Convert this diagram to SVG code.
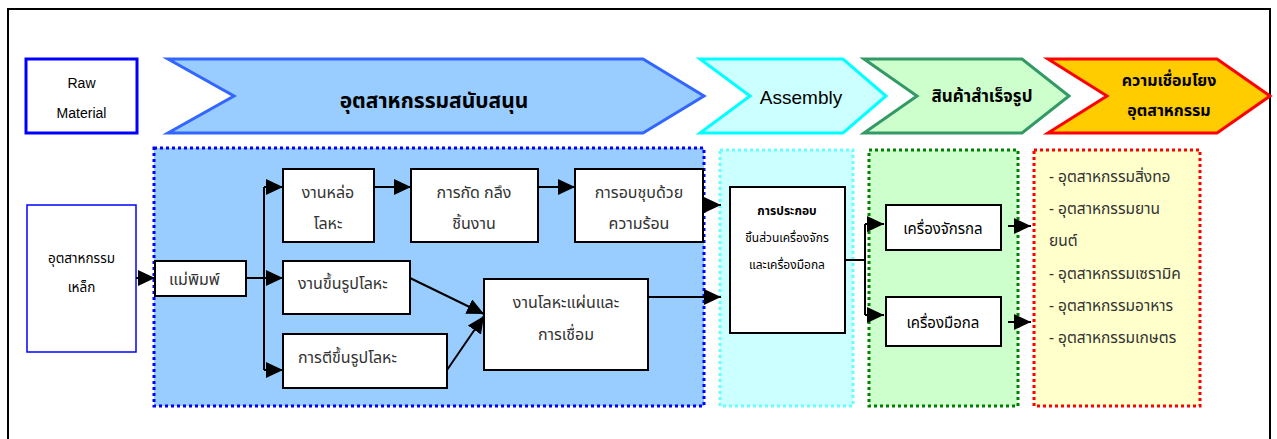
<svg xmlns="http://www.w3.org/2000/svg" width="1277" height="439" viewBox="0 0 1277 439">
<defs>
<marker id="ah" markerUnits="userSpaceOnUse" markerWidth="18" markerHeight="16" refX="17" refY="8" orient="auto">
<path d="M0,0 L17,8 L0,16 Z" fill="#000"/>
</marker>
</defs>
<style>
text{font-family:"Noto Sans Thai","Noto Sans","Liberation Sans",sans-serif;fill:#000;}
.en{font-family:"Liberation Sans",Arial,sans-serif;}
.box{fill:#fff;stroke:#000;stroke-width:2;}
.ln{fill:none;stroke:#000;stroke-width:2;}
.t{font-size:16px;fill:#333;}
.li{font-size:15.5px;fill:#333;}
.c{text-anchor:middle;}
.b{font-weight:bold;}
</style>
<rect x="0" y="0" width="1277" height="439" fill="#fff"/>
<rect x="8" y="9" width="1262" height="440" fill="none" stroke="#000" stroke-width="2"/>

<!-- containers -->
<g id="zone-support"><rect x="154" y="148" width="550" height="258" fill="#99CCFF" stroke="#0000FF" stroke-width="3" stroke-dasharray="3,3"/></g>
<g id="zone-assembly"><rect x="720" y="150" width="133" height="256" fill="#CCFFFF" stroke="#66FFFF" stroke-width="3" stroke-dasharray="3,3"/></g>
<g id="zone-finished"><rect x="869" y="150" width="149" height="256" fill="#CCFFCC" stroke="#008000" stroke-width="3" stroke-dasharray="3,3"/></g>
<g id="zone-linkage"><rect x="1034" y="150" width="166" height="256" fill="#FFFFCC" stroke="#FF0000" stroke-width="3" stroke-dasharray="3,3"/></g>

<!-- header -->
<g id="raw-material">
<rect x="26" y="59" width="111" height="74" fill="#fff" stroke="#0000FF" stroke-width="3"/>
<text class="en c" x="81.5" y="88" font-size="14">Raw</text>
<text class="en c" x="81.5" y="118" font-size="14">Material</text>
</g>
<g id="chev-support">
<polygon points="168,59 643,59 704,96 643,133 168,133 234,96" fill="#99CCFF" stroke="#3366FF" stroke-width="3"/>
<text class="c b" x="434" y="108" font-size="21">อุตสาหกรรมสนับสนุน</text>
</g>
<g id="chev-assembly">
<polygon points="700,59 843,59 886,96 843,133 700,133 750,96" fill="#CCFFFF" stroke="#00FFFF" stroke-width="3"/>
<text class="en c" x="801" y="104" font-size="19">Assembly</text>
</g>
<g id="chev-finished">
<polygon points="864,59 1022,59 1069,96 1022,133 864,133 917,96" fill="#CCFFCC" stroke="#339966" stroke-width="3"/>
<text class="c b" x="982" y="102" font-size="17">สินค้าสำเร็จรูป</text>
</g>
<g id="chev-linkage">
<polygon points="1048,59 1217,59 1270,96 1217,133 1048,133 1107,96" fill="#FFCC00" stroke="#FF0000" stroke-width="3"/>
<text class="c b" x="1169" y="86" font-size="16">ความเชื่อมโยง</text>
<text class="c b" x="1169" y="116" font-size="16">อุตสาหกรรม</text>
</g>

<!-- nodes -->
<g id="steel">
<rect x="27" y="205" width="109" height="147" fill="#fff" stroke="#0000FF" stroke-width="1.5"/>
<text class="c" x="81.5" y="263" font-size="13.5" fill="#333">อุตสาหกรรม</text>
<text class="c" x="81.5" y="292" font-size="13.5" fill="#333">เหล็ก</text>
</g>
<g id="mold">
<rect class="box" x="155" y="261" width="91" height="35"/>
<text class="t" x="169" y="285">แม่พิมพ์</text>
</g>
<g id="casting">
<rect class="box" x="283" y="169" width="91" height="73"/>
<text class="t c" x="328" y="198">งานหล่อ</text>
<text class="t c" x="328" y="229">โลหะ</text>
</g>
<g id="machining">
<rect class="box" x="411" y="169" width="127" height="73"/>
<text class="t c" x="474" y="198">การกัด กลึง</text>
<text class="t c" x="474" y="229">ชิ้นงาน</text>
</g>
<g id="heat">
<rect class="box" x="575" y="169" width="128" height="73"/>
<text class="t c" x="639" y="198">การอบชุบด้วย</text>
<text class="t c" x="639" y="229">ความร้อน</text>
</g>
<g id="forming">
<rect class="box" x="283" y="261" width="127" height="53"/>
<text class="t" x="298" y="289">งานขึ้นรูปโลหะ</text>
</g>
<g id="forging">
<rect class="box" x="283" y="334" width="164" height="54"/>
<text class="t" x="298" y="363">การตีขึ้นรูปโลหะ</text>
</g>
<g id="sheet">
<rect class="box" x="484" y="279" width="164" height="91"/>
<text class="t c" x="566" y="308">งานโลหะแผ่นและ</text>
<text class="t c" x="566" y="340">การเชื่อม</text>
</g>
<g id="assembly-node">
<rect class="box" x="730" y="187" width="115" height="146"/>
<text class="c b" x="787" y="215" font-size="12">การประกอบ</text>
<text class="c" x="787" y="242" font-size="12" fill="#333">ชิ้นส่วนเครื่องจักร</text>
<text class="c" x="787" y="269" font-size="12" fill="#333">และเครื่องมือกล</text>
</g>
<g id="machinery">
<rect class="box" x="886" y="205" width="115" height="45"/>
<text class="c" x="943" y="234" font-size="15" fill="#333">เครื่องจักรกล</text>
</g>
<g id="tools">
<rect class="box" x="886" y="297" width="115" height="49"/>
<text class="c" x="943" y="328" font-size="15" fill="#333">เครื่องมือกล</text>
</g>
<g id="industries">
<text class="li" x="1049" y="182">- อุตสาหกรรมสิ่งทอ</text>
<text class="li" x="1049" y="214">- อุตสาหกรรมยาน</text>
<text class="li" x="1049" y="246">ยนต์</text>
<text class="li" x="1049" y="279">- อุตสาหกรรมเซรามิค</text>
<text class="li" x="1049" y="311">- อุตสาหกรรมอาหาร</text>
<text class="li" x="1049" y="343">- อุตสาหกรรมเกษตร</text>
</g>

<!-- connectors -->
<g id="connectors">
<line class="ln" x1="136" y1="278" x2="155" y2="278" marker-end="url(#ah)"/>
<line class="ln" x1="246" y1="278" x2="264" y2="278"/>
<line class="ln" x1="264" y1="187" x2="264" y2="370"/>
<line class="ln" x1="264" y1="187" x2="283" y2="187" marker-end="url(#ah)"/>
<line class="ln" x1="264" y1="278" x2="283" y2="278" marker-end="url(#ah)"/>
<line class="ln" x1="264" y1="370" x2="283" y2="370" marker-end="url(#ah)"/>
<line class="ln" x1="374" y1="187" x2="411" y2="187" marker-end="url(#ah)"/>
<line class="ln" x1="538" y1="187" x2="575" y2="187" marker-end="url(#ah)"/>
<line class="ln" x1="410" y1="278" x2="484" y2="314" marker-end="url(#ah)"/>
<line class="ln" x1="447" y1="370" x2="484" y2="316" marker-end="url(#ah)"/>
<line class="ln" x1="703" y1="205" x2="721" y2="205" marker-end="url(#ah)"/>
<line class="ln" x1="648" y1="297" x2="721" y2="297" marker-end="url(#ah)"/>
<line class="ln" x1="845" y1="260" x2="865" y2="260"/>
<line class="ln" x1="865" y1="224" x2="865" y2="315"/>
<line class="ln" x1="865" y1="224" x2="884" y2="224" marker-end="url(#ah)"/>
<line class="ln" x1="865" y1="315" x2="884" y2="315" marker-end="url(#ah)"/>
<line class="ln" x1="1008" y1="226" x2="1031" y2="226" marker-end="url(#ah)"/>
<line class="ln" x1="1008" y1="322" x2="1031" y2="322" marker-end="url(#ah)"/>
</g>
</svg>
